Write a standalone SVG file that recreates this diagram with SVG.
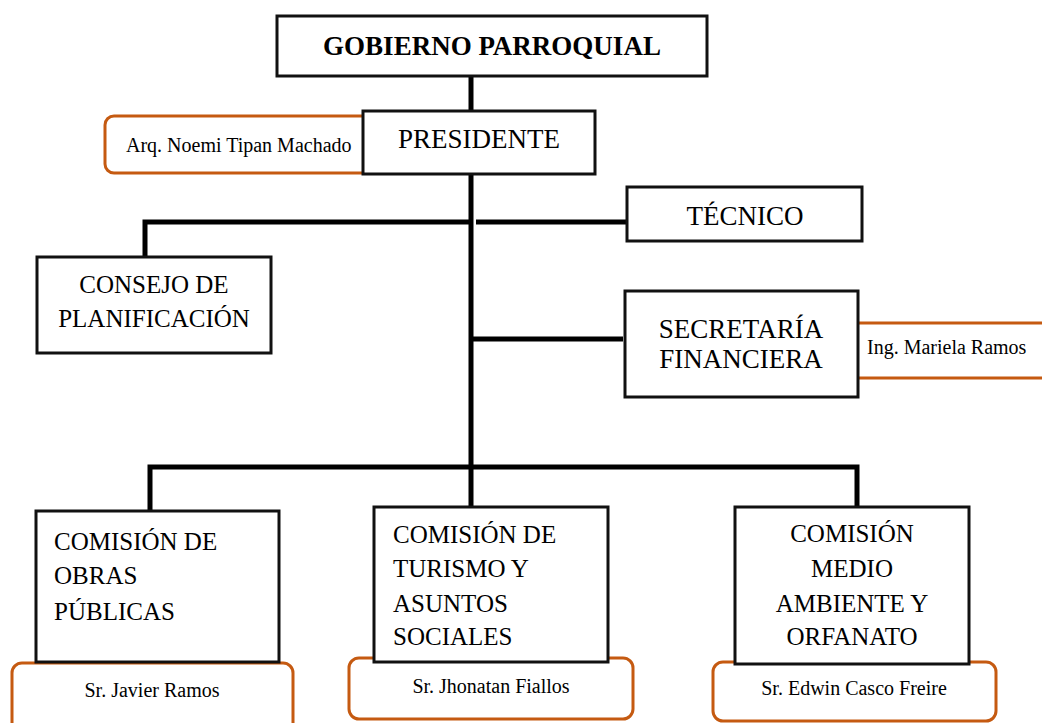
<svg xmlns="http://www.w3.org/2000/svg" width="1042" height="723" viewBox="0 0 1042 723">
<style>
.box{fill:#fff;stroke:#111;stroke-width:3}
.pbox{fill:#fff;stroke:#C55A11;stroke-width:3}
.conn{stroke:#000;stroke-width:5;fill:none}
.t27{font-size:27px}
.t25{font-size:25px}
.t20{font-size:20px}
.mid{text-anchor:middle}
</style>
<rect x="0" y="0" width="1042" height="723" fill="#fff"/>
<g id="connectors">
<line class="conn" x1="471" y1="76" x2="471" y2="112"/>
<line class="conn" x1="471" y1="174" x2="471" y2="507"/>
<polyline class="conn" points="471,222 145,222 145,257"/>
<line class="conn" x1="476" y1="222" x2="627" y2="222"/>
<line class="conn" x1="471" y1="339" x2="623" y2="339"/>
<polyline class="conn" points="150,511 150,467 857,467 857,507"/>
</g>
<g font-family="Liberation Serif, Tinos, DejaVu Serif, serif" fill="#000">
<g id="node-gobierno">
<rect class="box" x="277" y="16" width="430" height="60"/>
<text class="t27 mid" x="492" y="55" font-weight="bold">GOBIERNO PARROQUIAL</text>
</g>
<g id="node-arq">
<rect class="pbox" x="105" y="116" width="275" height="57" rx="9"/>
<text class="t20" x="126" y="152">Arq. Noemi Tipan Machado</text>
</g>
<g id="node-presidente">
<rect class="box" x="363" y="111" width="232" height="63"/>
<text class="t27 mid" x="479" y="148">PRESIDENTE</text>
</g>
<g id="node-tecnico">
<rect class="box" x="627" y="187" width="235" height="54"/>
<text class="t27 mid" x="745" y="225">TÉCNICO</text>
</g>
<g id="node-consejo">
<rect class="box" x="37" y="257" width="234" height="96"/>
<text class="t25 mid" x="154" y="293">CONSEJO DE</text>
<text class="t25 mid" x="154" y="327">PLANIFICACIÓN</text>
</g>
<g id="node-ing">
<rect class="pbox" x="840" y="323" width="240" height="55" rx="9"/>
<text class="t20" x="867" y="354">Ing. Mariela Ramos</text>
</g>
<g id="node-secretaria">
<rect class="box" x="625" y="291" width="233" height="106"/>
<text class="t27 mid" x="741" y="338">SECRETARÍA</text>
<text class="t27 mid" x="741" y="368">FINANCIERA</text>
</g>
<g id="node-javier">
<rect class="pbox" x="12" y="663" width="281" height="75" rx="10"/>
<text class="t20 mid" x="152" y="697">Sr. Javier Ramos</text>
</g>
<g id="node-obras">
<rect class="box" x="36" y="511" width="243" height="151"/>
<text class="t25" x="54" y="550">COMISIÓN DE</text>
<text class="t25" x="54" y="584">OBRAS</text>
<text class="t25" x="54" y="620">PÚBLICAS</text>
</g>
<g id="node-jhonatan">
<rect class="pbox" x="349" y="658" width="284" height="61" rx="10"/>
<text class="t20 mid" x="491" y="693">Sr. Jhonatan Fiallos</text>
</g>
<g id="node-turismo">
<rect class="box" x="374" y="507" width="234" height="155"/>
<text class="t25" x="393" y="543">COMISIÓN DE</text>
<text class="t25" x="393" y="577">TURISMO Y</text>
<text class="t25" x="393" y="612">ASUNTOS</text>
<text class="t25" x="393" y="645">SOCIALES</text>
</g>
<g id="node-edwin">
<rect class="pbox" x="713" y="662" width="283" height="59" rx="10"/>
<text class="t20 mid" x="854" y="695">Sr. Edwin Casco Freire</text>
</g>
<g id="node-medio">
<rect class="box" x="735" y="507" width="234" height="157"/>
<text class="t25 mid" x="852" y="542">COMISIÓN</text>
<text class="t25 mid" x="852" y="577">MEDIO</text>
<text class="t25 mid" x="852" y="612">AMBIENTE Y</text>
<text class="t25 mid" x="852" y="645">ORFANATO</text>
</g>
</g>
</svg>
